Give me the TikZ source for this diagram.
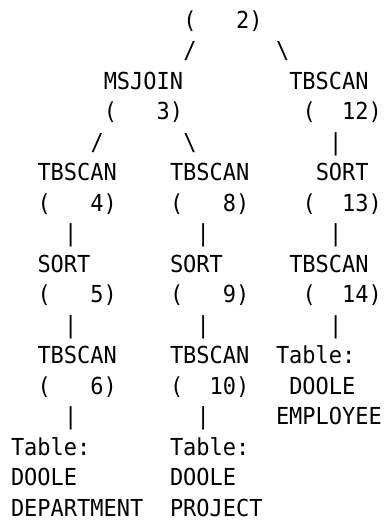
\documentclass[tikz,border=0pt]{standalone}
\usepackage{fontspec}
\newfontfamily\dbmono[FakeStretch=0.94]{DejaVu Sans Mono}
\tikzset{
  txt/.style={inner sep=0pt, outer sep=0pt, anchor=base west,
    font=\dbmono\fontsize{23.4}{28}\selectfont, text=black}
}
% column c, row r -> position of the character cell (base line)
\newcommand{\dbcell}[4]{\node[txt] (#1) at ({11+13.25*#2},{522-28.3-30.5*#3}) {#4};}
\begin{document}
\begin{tikzpicture}[x=1pt,y=1pt]
\fill[white] (0,0) rectangle (383,522);
\useasboundingbox (0,0) rectangle (383,522);
% row 0-1
\dbcell{n2}{13}{0}{(\ \ \ 2)}
\dbcell{l2a}{13}{1}{/}
\dbcell{l2b}{20}{1}{\symbol{92}}
% row 2-3
\dbcell{n3}{7}{2}{MSJOIN}
\dbcell{n3i}{7}{3}{(\ \ \ 3)}
\dbcell{n12}{21}{2}{TBSCAN}
\dbcell{n12i}{22}{3}{(\ \ 12)}
% row 4
\dbcell{l3a}{6}{4}{/}
\dbcell{l3b}{13}{4}{\symbol{92}}
\dbcell{l12}{24}{4}{|}
% row 5-6
\dbcell{n4}{2}{5}{TBSCAN}
\dbcell{n4i}{2}{6}{(\ \ \ 4)}
\dbcell{n8}{12}{5}{TBSCAN}
\dbcell{n8i}{12}{6}{(\ \ \ 8)}
\dbcell{n13}{23}{5}{SORT}
\dbcell{n13i}{22}{6}{(\ \ 13)}
% row 7
\dbcell{l4}{4}{7}{|}
\dbcell{l8}{14}{7}{|}
\dbcell{l13}{24}{7}{|}
% row 8-9
\dbcell{n5}{2}{8}{SORT}
\dbcell{n5i}{2}{9}{(\ \ \ 5)}
\dbcell{n9}{12}{8}{SORT}
\dbcell{n9i}{12}{9}{(\ \ \ 9)}
\dbcell{n14}{21}{8}{TBSCAN}
\dbcell{n14i}{22}{9}{(\ \ 14)}
% row 10
\dbcell{l5}{4}{10}{|}
\dbcell{l9}{14}{10}{|}
\dbcell{l14}{24}{10}{|}
% row 11-12
\dbcell{n6}{2}{11}{TBSCAN}
\dbcell{n6i}{2}{12}{(\ \ \ 6)}
\dbcell{n10}{12}{11}{TBSCAN}
\dbcell{n10i}{12}{12}{(\ \ 10)}
\dbcell{temp1}{20}{11}{Table:}
\dbcell{temp2}{21}{12}{DOOLE}
\dbcell{temp3}{20}{13}{EMPLOYEE}
% row 13
\dbcell{l6}{4}{13}{|}
\dbcell{l10}{14}{13}{|}
% rows 14-16
\dbcell{tdep1}{0}{14}{Table:}
\dbcell{tdep2}{0}{15}{DOOLE}
\dbcell{tdep3}{0}{16}{DEPARTMENT}
\dbcell{tpro1}{12}{14}{Table:}
\dbcell{tpro2}{12}{15}{DOOLE}
\dbcell{tpro3}{12}{16}{PROJECT}
\end{tikzpicture}
\end{document}
